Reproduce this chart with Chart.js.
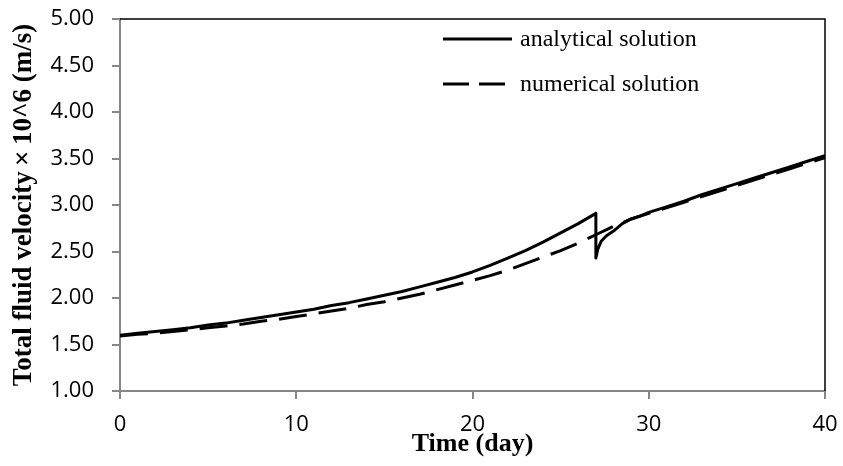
<!DOCTYPE html>
<html>
<head>
<meta charset="utf-8">
<script src="https://cdn.jsdelivr.net/npm/chart.js@4.4.1/dist/chart.umd.min.js"></script>
<style>
  html, body { margin: 0; padding: 0; background: #ffffff; }
  #wrap { width: 843px; height: 466px; }
</style>
</head>
<body>
<div id="wrap"><canvas id="c" width="843" height="466"></canvas></div>
<script>
// Time (day) and velocity (x10^-6 m/s) for the analytical solution
const timeAnalytical = [0,1,2,3,4,5,6,7,8,9,10,11,12,13,14,15,16,17,18,19,20,21,22,23,24,25,26,27,
  27,27.1,27.3,27.6,28,28.5,29,29.5,30,31,32,33,34,35,36,37,38,39,40];
const velAnalytical = [1.60,1.62,1.64,1.66,1.68,1.71,1.73,1.76,1.79,1.82,1.85,1.88,1.92,1.95,1.99,2.03,2.07,2.12,2.17,2.22,2.28,2.35,2.43,2.51,2.60,2.70,2.80,2.91,
  2.43,2.52,2.61,2.67,2.72,2.80,2.85,2.88,2.92,2.98,3.04,3.11,3.17,3.23,3.29,3.35,3.41,3.47,3.53];

// Time (day) and velocity for the numerical solution
const timeNumerical = [0,1,2,3,4,5,6,7,8,9,10,11,12,13,14,15,16,17,18,19,20,21,22,23,24,25,26,27,28,29,30,31,32,33,34,35,36,37,38,39,40];
const velNumerical = [1.59,1.61,1.62,1.64,1.66,1.68,1.70,1.72,1.75,1.77,1.80,1.83,1.86,1.89,1.93,1.96,2.00,2.04,2.09,2.14,2.19,2.24,2.30,2.37,2.44,2.51,2.59,2.68,2.77,2.85,2.91,2.97,3.03,3.09,3.15,3.21,3.27,3.33,3.39,3.45,3.51];

const seriesLabels = ['analytical solution', 'numerical solution'];
const xAxisTitle = 'Time (day)';
const yAxisTitle = 'Total fluid velocity\u2009\u00D7\u200910^6 (m/s)';

const toPoints = (xs, ys) => xs.map((x, i) => ({ x: x, y: ys[i] }));

// Black frame on the top and right edges of the plot area
const framePlugin = {
  id: 'frame',
  afterDraw(chart) {
    const { ctx, chartArea: a } = chart;
    ctx.save();
    ctx.strokeStyle = '#000000';
    ctx.lineWidth = 1.5;
    ctx.beginPath();
    ctx.moveTo(a.left, a.top);
    ctx.lineTo(a.right, a.top);
    ctx.lineTo(a.right, a.bottom);
    ctx.stroke();
    ctx.restore();
  }
};

// Legend drawn inside the plot area, one entry per row
const innerLegend = {
  id: 'innerLegend',
  afterDraw(chart) {
    const { ctx } = chart;
    const x0 = 443, x1 = 512, rows = [39, 84];
    ctx.save();
    chart.data.datasets.forEach((ds, i) => {
      const y = rows[i];
      ctx.strokeStyle = ds.borderColor;
      ctx.lineWidth = ds.borderWidth;
      ctx.setLineDash(ds.borderDash ? [26, 10] : []);
      ctx.beginPath();
      ctx.moveTo(x0, y);
      ctx.lineTo(x1, y);
      ctx.stroke();
      ctx.setLineDash([]);
      ctx.fillStyle = '#000000';
      ctx.font = '24px "Liberation Serif", "Times New Roman", serif';
      ctx.textBaseline = 'middle';
      ctx.textAlign = 'left';
      ctx.fillText(ds.label, x1 + 8, y + 1);
    });
    ctx.restore();
  }
};

const tickFont = { family: '"Open Sans", "Liberation Sans", sans-serif', size: 22 };
const titleFont = { family: '"Liberation Serif", "Times New Roman", serif', size: 26, weight: 'bold' };
const yTitleFont = { family: '"Liberation Serif", "Times New Roman", serif', size: 27, weight: 'bold' };
const axisGray = '#868686';

new Chart(document.getElementById('c'), {
  type: 'line',
  data: {
    datasets: [
      {
        label: seriesLabels[0],
        data: toPoints(timeAnalytical, velAnalytical),
        borderColor: '#000000',
        borderWidth: 3,
        borderJoinStyle: 'round',
        pointRadius: 0,
        tension: 0,
        fill: false
      },
      {
        label: seriesLabels[1],
        data: toPoints(timeNumerical, velNumerical),
        borderColor: '#000000',
        borderWidth: 3,
        borderDash: [28, 12],
        pointRadius: 0,
        tension: 0,
        fill: false
      }
    ]
  },
  options: {
    responsive: false,
    animation: false,
    devicePixelRatio: 1,
    layout: { padding: { top: 19, right: 18, left: 0, bottom: 0 } },
    plugins: {
      legend: { display: false },
      tooltip: { enabled: false }
    },
    scales: {
      x: {
        type: 'linear',
        min: 0,
        max: 40,
        afterFit(scale) {
          scale.height = 75;
          scale.paddingLeft = 0;
          scale.paddingRight = 0;
        },
        ticks: {
          stepSize: 10,
          color: '#000000',
          font: tickFont,
          padding: 13,
          maxRotation: 0
        },
        grid: {
          display: true,
          drawOnChartArea: false,
          drawTicks: true,
          tickLength: 8,
          color: axisGray,
          lineWidth: 2
        },
        border: { display: true, color: axisGray, width: 2 },
        title: {
          display: true,
          text: xAxisTitle,
          color: '#000000',
          font: titleFont,
          padding: { top: 0, bottom: 6 }
        }
      },
      y: {
        type: 'linear',
        min: 1,
        max: 5,
        afterFit(scale) {
          scale.width = 120;
          scale.paddingTop = 0;
          scale.paddingBottom = 0;
        },
        ticks: {
          stepSize: 0.5,
          color: '#000000',
          font: tickFont,
          padding: 18,
          callback: (v) => Number(v).toFixed(2)
        },
        grid: {
          display: true,
          drawOnChartArea: false,
          drawTicks: true,
          tickLength: 8,
          color: axisGray,
          lineWidth: 2
        },
        border: { display: true, color: axisGray, width: 2 },
        title: {
          display: true,
          text: yAxisTitle,
          color: '#000000',
          font: yTitleFont,
          padding: { top: 8, bottom: 0 }
        }
      }
    }
  },
  plugins: [framePlugin, innerLegend]
});
</script>
</body>
</html>
